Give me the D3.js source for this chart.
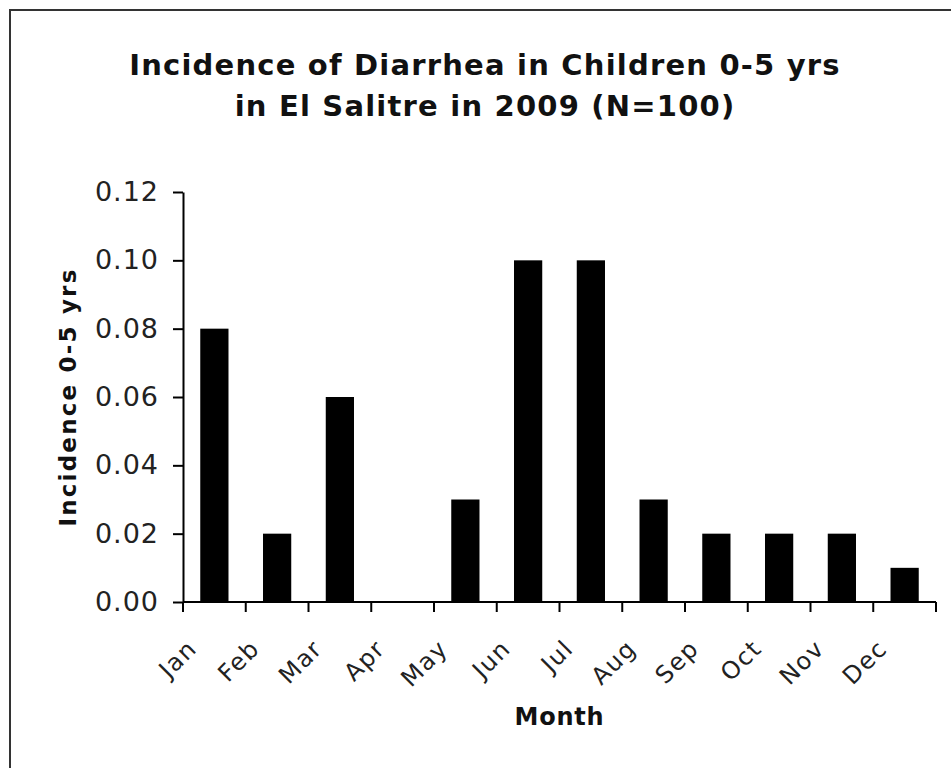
<!DOCTYPE html>
<html>
<head>
<meta charset="utf-8">
<script src="https://cdn.jsdelivr.net/npm/d3@7"></script>
<style>
  body { margin: 0; background: #fff; }
  svg { display: block; }
</style>
</head>
<body>
<svg id="chart"></svg>
<script>
// data
const months = ["Jan", "Feb", "Mar", "Apr", "May", "Jun", "Jul", "Aug", "Sep", "Oct", "Nov", "Dec"];
const incidence = [0.08, 0.02, 0.06, 0.00, 0.03, 0.10, 0.10, 0.03, 0.02, 0.02, 0.02, 0.01];
const yTicks = [0, 0.02, 0.04, 0.06, 0.08, 0.10, 0.12];
const titleLines = ["Incidence of Diarrhea in Children 0-5 yrs", "in El Salitre in 2009 (N=100)"];

const width = 951, height = 768;
const margin = {top: 192, right: 15, bottom: 166, left: 183};
const font = "DejaVu Sans, Verdana, sans-serif";

const svg = d3.select("#chart")
    .attr("width", width)
    .attr("height", height)
    .style("font-family", font);

// frame (runs off the right and bottom edges, as in the picture)
svg.append("rect")
    .attr("x", 10)
    .attr("y", 10)
    .attr("width", width + 20)
    .attr("height", height + 20)
    .attr("fill", "#fff")
    .attr("stroke", "#333")
    .attr("stroke-width", 2);

const x = d3.scaleBand()
    .domain(months)
    .range([margin.left, width - margin.right])
    .paddingInner(0.55)
    .paddingOuter(0.275);

// band scale with no padding, for the tick positions at category edges
const xEdge = d3.scaleBand()
    .domain(months)
    .range([margin.left, width - margin.right]);

const y = d3.scaleLinear()
    .domain([0, 0.12])
    .range([height - margin.bottom, margin.top]);

// title
svg.append("text")
    .attr("x", 485)
    .attr("y", 75)
    .attr("text-anchor", "middle")
    .style("font-weight", "bold")
    .style("font-size", "29px")
    .style("letter-spacing", "1.2px")
    .attr("fill", "#111")
    .selectAll("tspan")
    .data(titleLines)
    .join("tspan")
    .attr("x", 485)
    .attr("dy", (d, i) => i === 0 ? 0 : 41)
    .text(d => d);

// bars
svg.append("g")
    .selectAll("rect")
    .data(incidence)
    .join("rect")
    .attr("x", (d, i) => x(months[i]))
    .attr("y", d => y(d))
    .attr("width", x.bandwidth())
    .attr("height", d => y(0) - y(d))
    .attr("fill", "#000");

// y axis
const yAxis = svg.append("g")
    .attr("transform", `translate(${margin.left},0)`)
    .call(d3.axisLeft(y)
        .tickValues(yTicks)
        .tickFormat(d3.format(".2f"))
        .tickSize(10)
        .tickSizeOuter(0)
        .tickPadding(14));

yAxis.select(".domain").attr("stroke", "#000").attr("stroke-width", 2);
yAxis.selectAll(".tick line").attr("stroke", "#000").attr("stroke-width", 2);
yAxis.selectAll(".tick text")
    .attr("fill", "#222")
    .style("font-family", font)
    .style("font-size", "27px")
    .style("letter-spacing", "1px");

// x axis: ticks at category boundaries
const edges = months.map(m => xEdge(m)).concat([width - margin.right]);

const xAxis = svg.append("g")
    .attr("transform", `translate(0,${y(0)})`);

xAxis.append("line")
    .attr("x1", margin.left)
    .attr("x2", width - margin.right)
    .attr("stroke", "#000")
    .attr("stroke-width", 2);

xAxis.selectAll(".edge")
    .data(edges)
    .join("line")
    .attr("class", "edge")
    .attr("x1", d => d)
    .attr("x2", d => d)
    .attr("y1", 0)
    .attr("y2", 10)
    .attr("stroke", "#000")
    .attr("stroke-width", 2);

xAxis.selectAll(".label")
    .data(months)
    .join("text")
    .attr("class", "label")
    .attr("transform", d => `translate(${xEdge(d) + xEdge.bandwidth() / 2 - 16},48) rotate(-45)`)
    .attr("text-anchor", "end")
    .attr("fill", "#222")
    .style("font-size", "24px")
    .style("letter-spacing", "1.5px")
    .text(d => d);

// axis titles
svg.append("text")
    .attr("x", (margin.left + width - margin.right) / 2)
    .attr("y", 725)
    .attr("text-anchor", "middle")
    .style("font-weight", "bold")
    .style("font-size", "24px")
    .style("letter-spacing", "0.8px")
    .attr("fill", "#111")
    .text("Month");

svg.append("text")
    .attr("transform", `translate(76,${(y(0) + y(0.12)) / 2}) rotate(-90)`)
    .attr("text-anchor", "middle")
    .style("font-weight", "bold")
    .style("font-size", "23px")
    .style("letter-spacing", "2.2px")
    .attr("fill", "#111")
    .text("Incidence 0-5 yrs");
</script>
</body>
</html>
